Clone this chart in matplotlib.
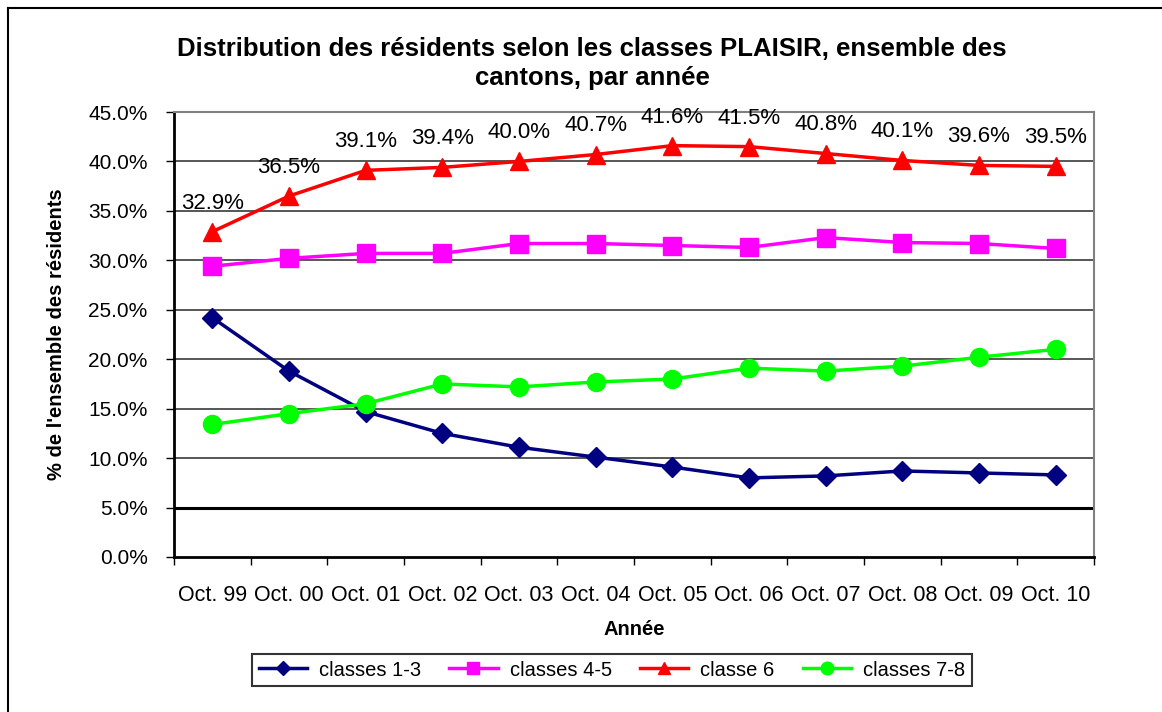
import numpy as np
import matplotlib
matplotlib.use("Agg")
import matplotlib.pyplot as plt
from matplotlib.lines import Line2D

plt.rcParams['font.family'] = ['Liberation Sans', 'DejaVu Sans']

# Data
years = ["Oct. 99", "Oct. 00", "Oct. 01", "Oct. 02", "Oct. 03", "Oct. 04",
         "Oct. 05", "Oct. 06", "Oct. 07", "Oct. 08", "Oct. 09", "Oct. 10"]

classes_1_3 = [24.2, 18.8, 14.7, 12.5, 11.1, 10.1, 9.1, 8.0, 8.2, 8.7, 8.5, 8.3]
classes_4_5 = [29.4, 30.2, 30.7, 30.7, 31.7, 31.7, 31.5, 31.3, 32.3, 31.8, 31.7, 31.2]
classe_6 = [32.9, 36.5, 39.1, 39.4, 40.0, 40.7, 41.6, 41.5, 40.8, 40.1, 39.6, 39.5]
classes_7_8 = [13.4, 14.5, 15.5, 17.5, 17.2, 17.7, 18.0, 19.1, 18.8, 19.3, 20.2, 21.0]

y_ticks = [0, 5, 10, 15, 20, 25, 30, 35, 40, 45]

fig = plt.figure(figsize=(11.62, 7.12), dpi=100)
ax = fig.add_axes([174 / 1162, 1 - 557 / 712, 920 / 1162, 445 / 712])

x = np.arange(len(years))

# grid lines
for v in y_ticks[1:-1]:
    if v == 5:
        ax.axhline(v, color="black", lw=2.2, zorder=1)
    else:
        ax.axhline(v, color="#3a3a3a", lw=1.2, zorder=1)

ax.plot(x, classes_1_3, color="#000080", lw=2.5, marker="D", ms=10, label="classes 1-3", zorder=3)
ax.plot(x, classes_4_5, color="#ff00ff", lw=2.5, marker="s", ms=13, label="classes 4-5", zorder=3)
ax.plot(x, classe_6, color="#ff0000", lw=2.5, marker="^", ms=13, label="classe 6", zorder=3)
ax.plot(x, classes_7_8, color="#00ff00", lw=2.5, marker="o", ms=13, label="classes 7-8", zorder=3)

for xi, v in zip(x, classe_6):
    ax.annotate(f"{v:.1f}%", (xi, v), xytext=(0, 13), textcoords="offset points",
                ha="center", va="bottom", fontsize=16)

ax.set_xlim(-0.5, len(years) - 0.5)
ax.set_ylim(0, 45)
ax.set_yticks(y_ticks)
ax.set_yticklabels([f"{v:.1f}%" for v in y_ticks], fontsize=15)
ax.set_xticks(x)
ax.set_xticklabels(years, fontsize=15.5)
ax.set_xticks(np.arange(len(years) + 1) - 0.5, minor=True)
ax.tick_params(axis="x", which="major", length=0, pad=20)
ax.tick_params(axis="x", which="minor", length=6, width=1, direction="out")
ax.tick_params(axis="y", length=6, width=1, direction="out", pad=13)

ax.spines["left"].set_linewidth(2)
ax.spines["bottom"].set_linewidth(2)
ax.spines["top"].set_color("#808080")
ax.spines["right"].set_color("#808080")
ax.spines["top"].set_linewidth(1.5)
ax.spines["right"].set_linewidth(1.5)

ax.set_xlabel("Année", fontsize=14.5, fontweight="bold", labelpad=10)
ax.set_ylabel("% de l'ensemble des résidents", fontsize=14.5, fontweight="bold", labelpad=16)

fig.suptitle("Distribution des résidents selon les classes PLAISIR, ensemble des\ncantons, par année",
             x=592 / 1162, y=1 - 37 / 712, fontsize=18.5, fontweight="bold", va="top", linespacing=1.25)

leg = ax.legend(loc="center", bbox_to_anchor=(612 / 1162, 1 - 670 / 712),
                bbox_transform=fig.transFigure, ncol=4, fontsize=14.5, frameon=True,
                fancybox=False, edgecolor="black", handlelength=2.4, markerscale=0.7,
                columnspacing=1.4, handletextpad=0.6, borderpad=0.32)
leg.get_frame().set_linewidth(1.5)

# outer frame
fig.add_artist(Line2D([8 / 1162, 8 / 1162], [0, 1 - 8 / 712], color="black", lw=1.5, transform=fig.transFigure))
fig.add_artist(Line2D([8 / 1162, 1], [1 - 8 / 712, 1 - 8 / 712], color="black", lw=1.5, transform=fig.transFigure))

fig.savefig("out.png", dpi=100)
